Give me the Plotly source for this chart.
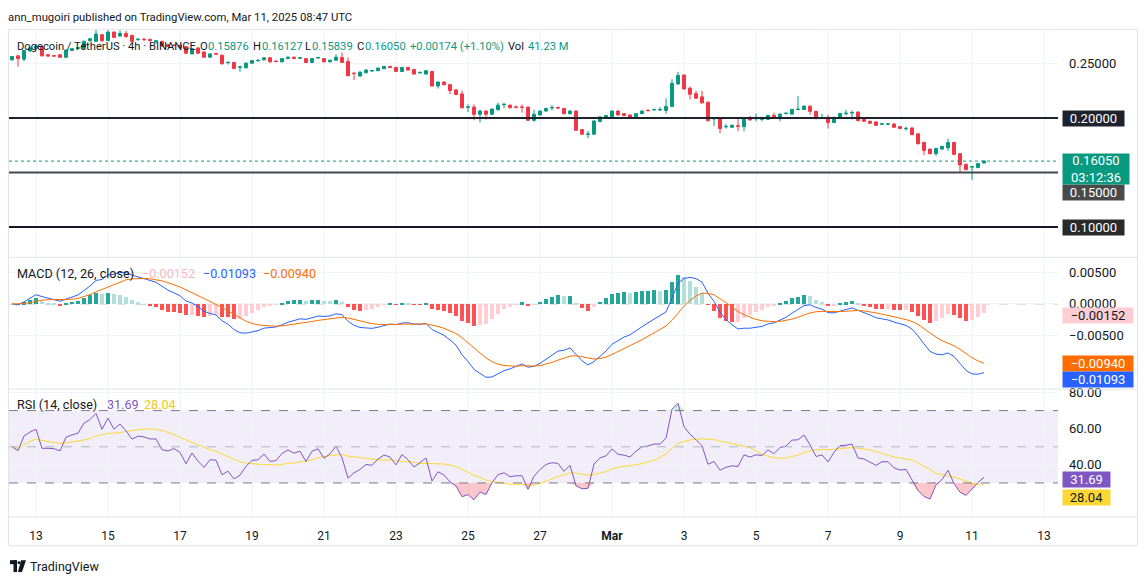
import numpy as np
import pandas as pd
import plotly.graph_objects as go

W, H = 1147, 583

# ---------------- data (DOGE/USDT 4h) ----------------
times = pd.date_range("2025-02-12 08:00", periods=163, freq="4h")

opens = [0.2534,0.2570,0.2540,0.2615,0.2640,0.2655,0.2580,0.2572,0.2580,0.2557,
         0.2620,0.2638,0.2640,0.2709,0.2703,0.2764,0.2710,0.2788,0.2752,0.2776,
         0.2757,0.2718,0.2722,0.2721,0.2697,0.2703,0.2673,0.2669,0.2667,0.2655,
         0.2588,0.2643,0.2606,0.2558,0.2590,0.2576,0.2507,0.2509,0.2465,0.2461,
         0.2503,0.2525,0.2534,0.2552,0.2522,0.2515,0.2545,0.2558,0.2548,0.2545,
         0.2509,0.2550,0.2545,0.2515,0.2530,0.2555,0.2518,0.2412,0.2385,0.2415,
         0.2431,0.2434,0.2452,0.2473,0.2464,0.2427,0.2464,0.2445,0.2414,0.2403,
         0.2427,0.2294,0.2330,0.2306,0.2258,0.2221,0.2098,0.2100,0.2034,0.2064,
         0.2034,0.2076,0.2122,0.2118,0.2102,0.2102,0.2100,0.1979,0.2028,0.2064,
         0.2092,0.2096,0.2088,0.2039,0.2064,0.1894,0.1850,0.1852,0.1967,0.2010,
         0.2010,0.2064,0.2040,0.2028,0.2010,0.2040,0.2072,0.2074,0.2074,0.2070,
         0.2106,0.2312,0.2394,0.2273,0.2224,0.2194,0.2145,0.1992,0.1994,0.1919,
         0.1915,0.1929,0.1921,0.2000,0.1992,0.1988,0.1988,0.2024,0.1994,0.2040,
         0.2036,0.2077,0.2079,0.2109,0.2061,0.1998,0.2006,0.1958,0.2006,0.2040,
         0.2046,0.2055,0.1988,0.1970,0.1964,0.1943,0.1943,0.1945,0.1921,0.1901,
         0.1909,0.1855,0.1776,0.1715,0.1673,0.1715,0.1727,0.1776,0.1673,0.1576,
         0.1550,0.1545,0.15876]
closes = [0.2564,0.2545,0.2620,0.2643,0.2660,0.2570,0.2570,0.2568,0.2557,0.2624,
          0.2636,0.2645,0.2703,0.2727,0.2770,0.2709,0.2788,0.2739,0.2776,0.2745,
          0.2703,0.2722,0.2718,0.2709,0.2709,0.2661,0.2655,0.2665,0.2648,0.2594,
          0.2636,0.2594,0.2558,0.2588,0.2586,0.2497,0.2511,0.2455,0.2469,0.2503,
          0.2527,0.2529,0.2552,0.2515,0.2518,0.2545,0.2558,0.2545,0.2552,0.2509,
          0.2545,0.2554,0.2515,0.2530,0.2558,0.2510,0.2388,0.2408,0.2421,0.2440,
          0.2435,0.2458,0.2473,0.2464,0.2427,0.2464,0.2440,0.2403,0.2418,0.2434,
          0.2294,0.2330,0.2306,0.2252,0.2215,0.2094,0.2102,0.2034,0.2064,0.2034,
          0.2082,0.2118,0.2126,0.2094,0.2098,0.2098,0.1979,0.2034,0.2064,0.2088,
          0.2096,0.2092,0.2039,0.2064,0.1888,0.1852,0.1854,0.1973,0.2010,0.2022,
          0.2064,0.2028,0.2022,0.2010,0.2040,0.2064,0.2068,0.2078,0.2078,0.2106,
          0.2318,0.2391,0.2267,0.2218,0.2182,0.2139,0.1976,0.1996,0.1903,0.1923,
          0.1933,0.1925,0.2000,0.1982,0.1996,0.1992,0.2024,0.2000,0.2036,0.2044,
          0.2079,0.2081,0.2109,0.2061,0.1994,0.2002,0.1958,0.2006,0.2042,0.2044,
          0.2050,0.1976,0.1970,0.1952,0.1933,0.1947,0.1947,0.1915,0.1903,0.1905,
          0.1848,0.1764,0.1703,0.1673,0.1721,0.1740,0.1776,0.1667,0.1570,0.1527,
          0.1554,0.1582,0.16050]
highs = [0.2570,0.2575,0.2625,0.2650,0.2670,0.2660,0.2585,0.2578,0.2585,0.2630,
         0.2645,0.2650,0.2710,0.2735,0.2806,0.2770,0.2806,0.2795,0.2806,0.2800,
         0.2765,0.2735,0.2735,0.2728,0.2715,0.2708,0.2680,0.2675,0.2672,0.2660,
         0.2642,0.2648,0.2612,0.2594,0.2600,0.2582,0.2515,0.2515,0.2480,0.2510,
         0.2532,0.2540,0.2558,0.2558,0.2530,0.2550,0.2565,0.2563,0.2560,0.2550,
         0.2550,0.2562,0.2550,0.2536,0.2585,0.2600,0.2555,0.2420,0.2427,0.2448,
         0.2442,0.2462,0.2478,0.2478,0.2470,0.2470,0.2470,0.2450,0.2425,0.2440,
         0.2432,0.2336,0.2335,0.2310,0.2262,0.2250,0.2125,0.2125,0.2076,0.2070,
         0.2088,0.2142,0.2136,0.2124,0.2115,0.2125,0.2105,0.2076,0.2070,0.2094,
         0.2118,0.2105,0.2094,0.2070,0.2070,0.1900,0.1882,0.1980,0.2016,0.2028,
         0.2070,0.2070,0.2046,0.2034,0.2046,0.2070,0.2078,0.2085,0.2100,0.2180,
         0.2355,0.2424,0.2400,0.2290,0.2250,0.2250,0.2150,0.2006,0.2000,0.1945,
         0.1940,0.1990,0.2006,0.2018,0.2040,0.2012,0.2030,0.2048,0.2042,0.2050,
         0.2085,0.2200,0.2115,0.2115,0.2067,0.2040,0.2030,0.2012,0.2048,0.2075,
         0.2068,0.2060,0.2005,0.1976,0.1970,0.1952,0.1952,0.1950,0.1926,0.1921,
         0.1914,0.1860,0.1782,0.1720,0.1727,0.1746,0.1812,0.1782,0.1678,0.1582,
         0.1554,0.1588,0.16127]
lows = [0.2525,0.2470,0.2520,0.2605,0.2630,0.2565,0.2560,0.2560,0.2550,0.2550,
        0.2615,0.2632,0.2635,0.2700,0.2698,0.2700,0.2705,0.2733,0.2745,0.2740,
        0.2697,0.2710,0.2710,0.2703,0.2690,0.2655,0.2650,0.2658,0.2643,0.2588,
        0.2582,0.2588,0.2552,0.2552,0.2580,0.2490,0.2490,0.2450,0.2424,0.2455,
        0.2498,0.2518,0.2528,0.2510,0.2512,0.2510,0.2540,0.2540,0.2542,0.2503,
        0.2503,0.2545,0.2510,0.2510,0.2525,0.2505,0.2382,0.2348,0.2380,0.2410,
        0.2425,0.2430,0.2448,0.2460,0.2422,0.2422,0.2435,0.2398,0.2408,0.2398,
        0.2290,0.2270,0.2300,0.2220,0.2210,0.2088,0.2055,0.1979,0.1961,0.1985,
        0.2028,0.2070,0.2090,0.2088,0.2090,0.2050,0.1973,0.1967,0.2022,0.2058,
        0.2070,0.2085,0.2034,0.2034,0.1882,0.1846,0.1815,0.1846,0.1962,0.2005,
        0.2005,0.2022,0.2017,0.2000,0.2005,0.2035,0.2062,0.2068,0.2064,0.2040,
        0.2100,0.2306,0.2260,0.2170,0.2176,0.2133,0.1970,0.1927,0.1860,0.1903,
        0.1910,0.1880,0.1879,0.1976,0.1970,0.1970,0.1982,0.1994,0.1970,0.2035,
        0.2030,0.2075,0.2073,0.2030,0.1988,0.1992,0.1903,0.1952,0.2000,0.2025,
        0.1985,0.1970,0.1964,0.1946,0.1928,0.1938,0.1938,0.1910,0.1898,0.1885,
        0.1842,0.1758,0.1660,0.1667,0.1654,0.1710,0.1700,0.1660,0.1503,0.1520,
        0.1430,0.1540,0.15839]

levels = [0.20, 0.15, 0.10]
level_colors = ["#1e222d", "#434651", "#131722"]
level_label_bg = ["#1e222d", "#4a4a4a", "#2a2a2a"]

x_ticks = ["2025-02-13", "2025-02-15", "2025-02-17", "2025-02-19", "2025-02-21",
           "2025-02-23", "2025-02-25", "2025-02-27", "2025-03-01", "2025-03-03",
           "2025-03-05", "2025-03-07", "2025-03-09", "2025-03-11", "2025-03-13"]
x_ticktext = ["13", "15", "17", "19", "21", "23", "25", "27", "<b>Mar</b>", "3",
              "5", "7", "9", "11", "13"]
price_ticks = [0.10, 0.15, 0.20, 0.25]
price_ticktext = ["", "", "", "0.25000"]
macd_ticks = [-0.005, 0.0, 0.005]
rsi_ticks = [40, 60, 80]

# ---------------- indicators from the closes ----------------
c = np.array(closes)


def ema(v, n):
    a = 2.0 / (n + 1)
    out = [v[0]]
    for x in v[1:]:
        out.append(a * x + (1 - a) * out[-1])
    return np.array(out)


macd = ema(c, 12) - ema(c, 26)
signal = ema(macd, 9)
hist = macd - signal

d = np.diff(c, prepend=c[0])
g = np.clip(d, 0, None)
l = np.clip(-d, 0, None)
seed = np.abs(d[1:15]).mean() / 2
ag, al = [seed], [seed]
for i in range(1, len(c)):
    ag.append((ag[-1] * 13 + g[i]) / 14)
    al.append((al[-1] * 13 + l[i]) / 14)
ag = np.array(ag); al = np.array(al)
rsi = 100 - 100 / (1 + ag / al)
rsi_ma = pd.Series(rsi).rolling(14, min_periods=1).mean().to_numpy()

hcol = []
for i, hv in enumerate(hist):
    pv = hist[i - 1] if i > 0 else 0
    if hv >= 0:
        hcol.append("#26a69a" if hv > pv else "#b2dfdb")
    else:
        hcol.append("#ff5252" if hv < pv else "#ffcdd2")

# ---------------- layout helpers (pixel -> paper) ----------------
OFFY = 2


def px(x):
    return x / W


def py(y):
    return 1 - (y - OFFY) / H


t_origin = pd.Timestamp("2025-02-12 00:00")
x_left = t_origin + pd.Timedelta(hours=9 / 36 * 24)
x_right = t_origin + pd.Timedelta(hours=1058 / 36 * 24)

price_rng = [0.20 - (256 - 116) / 1100, 0.20 + (116 - 26) / 1100]
macd_rng = [-(389 - 303.5) / 6400, (303.5 - 257) / 6400]
rsi_rng = [50 - (518 - 447.6) / 1.825, 50 + (447.6 - 390) / 1.825]

UP, DN = "#089981", "#f23645"
TXT = "#131722"
GRID = "#f0f3fa"
FONT = "Roboto"

fig = go.Figure()

fig.add_trace(go.Candlestick(
    x=times, open=opens, high=highs, low=lows, close=closes,
    increasing=dict(line=dict(color=UP, width=1), fillcolor=UP),
    decreasing=dict(line=dict(color=DN, width=1), fillcolor=DN),
    whiskerwidth=0, xaxis="x", yaxis="y", showlegend=False, hoverinfo="skip"))

fig.add_trace(go.Bar(x=times, y=hist, marker=dict(color=hcol, line=dict(width=0)),
                     width=4 * 3600 * 1000 * 0.8, xaxis="x2", yaxis="y2",
                     showlegend=False, hoverinfo="skip"))
fig.add_trace(go.Scatter(x=times, y=macd, mode="lines", line=dict(color="#2962ff", width=1),
                         xaxis="x2", yaxis="y2", showlegend=False, hoverinfo="skip"))
fig.add_trace(go.Scatter(x=times, y=signal, mode="lines", line=dict(color="#ff6d00", width=1),
                         xaxis="x2", yaxis="y2", showlegend=False, hoverinfo="skip"))

# RSI oversold / overbought fills
fig.add_trace(go.Scatter(x=times, y=[30] * len(times), mode="lines", line=dict(width=0),
                         xaxis="x3", yaxis="y3", showlegend=False, hoverinfo="skip"))
fig.add_trace(go.Scatter(x=times, y=np.minimum(rsi, 30),
                         mode="lines", line=dict(width=0), fill="tonexty",
                         fillcolor="rgba(242,54,69,0.28)", xaxis="x3", yaxis="y3",
                         showlegend=False, hoverinfo="skip"))
fig.add_trace(go.Scatter(x=times, y=[70] * len(times), mode="lines", line=dict(width=0),
                         xaxis="x3", yaxis="y3", showlegend=False, hoverinfo="skip"))
fig.add_trace(go.Scatter(x=times, y=np.maximum(rsi, 70),
                         mode="lines", line=dict(width=0), fill="tonexty",
                         fillcolor="rgba(8,153,129,0.18)", xaxis="x3", yaxis="y3",
                         showlegend=False, hoverinfo="skip"))
fig.add_trace(go.Scatter(x=times, y=rsi_ma, mode="lines", line=dict(color="#fdd835", width=1),
                         xaxis="x3", yaxis="y3", showlegend=False, hoverinfo="skip"))
fig.add_trace(go.Scatter(x=times, y=rsi, mode="lines", line=dict(color="#7e57c2", width=1),
                         xaxis="x3", yaxis="y3", showlegend=False, hoverinfo="skip"))

xcommon = dict(range=[x_left, x_right], domain=[px(9), px(1058)], type="date",
               showgrid=True, gridcolor=GRID, gridwidth=1, zeroline=False,
               tickvals=x_ticks, ticktext=x_ticktext, ticks="", showline=False,
               rangeslider=dict(visible=False), fixedrange=True)
ycommon = dict(side="right", anchor="free", position=px(1058), showgrid=True,
               gridcolor=GRID, zeroline=False, ticks="", showline=False,
               tickfont=dict(family=FONT, size=13, color=TXT), ticklabelstandoff=10,
               fixedrange=True)

fig.update_layout(
    width=W, height=H, margin=dict(l=0, r=0, t=0, b=0),
    paper_bgcolor="white", plot_bgcolor="rgba(0,0,0,0)",
    bargap=0, showlegend=False, hovermode=False,
    xaxis=dict(**xcommon, anchor="y", showticklabels=False),
    xaxis2=dict(**xcommon, anchor="y2", matches="x", showticklabels=False),
    xaxis3=dict(**xcommon, anchor="y3", matches="x", showticklabels=True,
                tickfont=dict(family=FONT, size=12, color=TXT), ticklabelstandoff=10),
    yaxis=dict(**ycommon, domain=[py(256), py(26)], range=price_rng,
               tickvals=price_ticks, ticktext=price_ticktext),
    yaxis2=dict(**ycommon, domain=[py(389), py(257)], range=macd_rng,
                tickvals=macd_ticks, tickformat=".5f"),
    yaxis3=dict(**ycommon, domain=[py(518), py(390)], range=rsi_rng,
                tickvals=rsi_ticks, tickformat=".2f"),
)

shapes = []
# RSI band
shapes.append(dict(type="rect", xref="x3 domain", yref="y3", x0=0, x1=1, y0=30, y1=70,
                   fillcolor="rgba(126,87,194,0.10)", line=dict(width=0), layer="below"))
for lv, col in [(70, "#787b86"), (50, "#b2b5be"), (30, "#787b86")]:
    shapes.append(dict(type="line", xref="x3 domain", yref="y3", x0=0, x1=1, y0=lv, y1=lv,
                       line=dict(color=col, width=1, dash="dash")))
# MACD zero line
shapes.append(dict(type="line", xref="x2 domain", yref="y2", x0=0, x1=1, y0=0, y1=0,
                   line=dict(color="#b2b5be", width=1, dash="dash"), layer="below"))
# horizontal levels
for lv, col in zip(levels, level_colors):
    shapes.append(dict(type="line", xref="x domain", yref="y", x0=0, x1=1, y0=lv, y1=lv,
                       line=dict(color=col, width=2)))
# last price dotted line
shapes.append(dict(type="line", xref="x domain", yref="y", x0=0, x1=1,
                   y0=closes[-1], y1=closes[-1], line=dict(color=UP, width=1, dash="dot")))
# frame and pane separators
FR = "#e0e3eb"
shapes.append(dict(type="rect", xref="paper", yref="paper", x0=px(8.5), x1=px(1137.5),
                   y0=py(547.5), y1=py(26.5), line=dict(color=FR, width=1)))
for yy in [256.5, 389.5, 518.5]:
    shapes.append(dict(type="line", xref="paper", yref="paper", x0=px(8.5), x1=px(1137.5),
                       y0=py(yy), y1=py(yy), line=dict(color=FR, width=1)))
# TradingView logo glyph
LY = 2
shapes += [
    dict(type="rect", xref="paper", yref="paper", x0=px(10), x1=px(17), y0=py(564 + LY), y1=py(560 + LY),
         fillcolor=TXT, line=dict(width=0)),
    dict(type="rect", xref="paper", yref="paper", x0=px(13.5), x1=px(17), y0=py(572 + LY), y1=py(560 + LY),
         fillcolor=TXT, line=dict(width=0)),
    dict(type="circle", xref="paper", yref="paper", x0=px(17.5), x1=px(20.5), y0=py(564 + LY),
         y1=py(561 + LY), fillcolor=TXT, line=dict(width=0)),
    dict(type="path", xref="paper", yref="paper",
         path=f"M {px(21)},{py(560 + LY)} L {px(26)},{py(560 + LY)} L {px(22)},{py(572 + LY)} "
              f"L {px(18)},{py(572 + LY)} Z",
         fillcolor=TXT, line=dict(width=0)),
]
fig.update_layout(shapes=shapes)

ann = []


def text(x, y, s, color=TXT, size=13, anchor="left"):
    ann.append(dict(xref="paper", yref="paper", x=px(x), y=py(y), text=s, showarrow=False,
                    xanchor=anchor, yanchor="middle", borderpad=0,
                    font=dict(family=FONT, size=size, color=color)))


text(7, 15, "ann_mugoiri published on TradingView.com, Mar 11, 2025 08:47 UTC", size=11.3)

chg = closes[-1] - opens[-1]
text(16, 44, "Dogecoin / TetherUS · 4h · BINANCE", size=11.2)
hdr = [(199, "O", TXT), (207, f"{opens[-1]:.5f}", UP), (252, "H", TXT), (261, f"{highs[-1]:.5f}", UP),
       (304, "L", TXT), (311, f"{lows[-1]:.5f}", UP), (356, "C", TXT), (364, f"{closes[-1]:.5f}", UP),
       (409, f"+{chg:.5f} (+{chg / opens[-1] * 100:.2f}%)", UP), (507, "Vol", TXT), (527, "41.23 M", UP)]
for x, s, col in hdr:
    text(x, 44, s, col, 11.2)

text(16, 273, "MACD (12, 26, close)", size=12.6)
text(141, 273, "−0.00152", "#f7b9c0", 12.6)
text(202, 273, "−0.01093", "#2962ff", 12.6)
text(262, 273, "−0.00940", "#ff6d00", 12.6)

text(16, 405, "RSI (14, close)", size=12.6)
text(106, 405, "31.69", "#7e57c2", 12.6)
text(143, 405, "28.04", "#f5c518", 12.6)

text(29, 566 + LY, "TradingView", size=12.5)


def label(yref, yval, s, bg, fg, w, shift=0, h=15):
    ann.append(dict(xref="paper", yref=yref, x=px(1062), y=yval, text=s, showarrow=False,
                    xanchor="left", yanchor="middle", yshift=shift, width=w, height=h,
                    align="center", bgcolor=bg, borderpad=0,
                    font=dict(family=FONT, size=13, color=fg)))


label("y", levels[0], "0.20000", level_label_bg[0], "white", 61)
label("y", levels[2], "0.10000", level_label_bg[2], "white", 61)
label("y", levels[1], "0.15000", level_label_bg[1], "white", 61, shift=-20)
label("y", closes[-1], "0.16050<br>03:12:36", UP, "white", 66, shift=-8, h=30)

label("y2", -0.00152, "−0.00152", "#ffcdd2", TXT, 70, shift=-2)
label("y2", -0.00940, "−0.00940", "#ff6d00", "white", 70)
label("y2", -0.01093, "−0.01093", "#2962ff", "white", 70, shift=-6)

label("y3", 31.69, "31.69", "#7e57c2", "white", 47)
label("y3", 28.04, "28.04", "#fdd835", TXT, 47, shift=-11)

fig.update_layout(annotations=ann)

fig.write_html("out.html", config={"displayModeBar": False},
               post_script="document.body.style.margin='0px';document.body.style.padding='0px';"
                           "document.body.style.overflow='hidden';")
